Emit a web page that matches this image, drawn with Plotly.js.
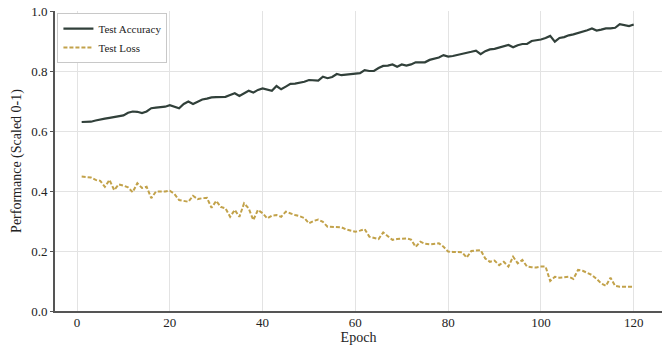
<!DOCTYPE html>
<html>
<head>
<meta charset="utf-8">
<script src="https://cdn.plot.ly/plotly-3.0.1.min.js"></script>
<style>html,body{margin:0;padding:0;background:#fff;}#chart{width:669px;height:347px;}</style>
</head>
<body>
<div id="chart"></div>
<script>
const epochs = Array.from({length: 120}, (_, i) => i + 1);

const testAccuracy = [
0.630,0.630,0.631,0.635,0.639,0.641,0.644,0.646,0.648,0.652,
0.661,0.665,0.664,0.660,0.665,0.676,0.678,0.679,0.681,0.686,
0.682,0.676,0.690,0.698,0.690,0.697,0.705,0.708,0.712,0.713,
0.713,0.714,0.720,0.726,0.717,0.726,0.734,0.728,0.737,0.742,
0.737,0.734,0.750,0.739,0.748,0.757,0.758,0.761,0.764,0.770,
0.768,0.768,0.781,0.776,0.780,0.790,0.786,0.788,0.790,0.793,
0.793,0.803,0.800,0.800,0.810,0.817,0.818,0.822,0.814,0.822,
0.818,0.822,0.829,0.829,0.829,0.837,0.840,0.845,0.853,0.848,
0.850,0.853,0.856,0.860,0.864,0.868,0.856,0.866,0.872,0.874,
0.879,0.884,0.887,0.879,0.886,0.890,0.890,0.900,0.902,0.905,
0.910,0.917,0.898,0.910,0.913,0.919,0.922,0.926,0.930,0.936,
0.942,0.935,0.938,0.942,0.942,0.944,0.956,0.953,0.950,0.955
];

const testLoss = [
0.448,0.447,0.445,0.437,0.434,0.414,0.437,0.403,0.422,0.418,
0.412,0.396,0.426,0.410,0.414,0.376,0.398,0.398,0.398,0.401,
0.390,0.370,0.367,0.364,0.384,0.373,0.376,0.377,0.344,0.367,
0.347,0.342,0.314,0.337,0.314,0.359,0.342,0.303,0.337,0.326,
0.309,0.318,0.320,0.314,0.331,0.325,0.320,0.316,0.310,0.292,
0.300,0.305,0.297,0.281,0.281,0.281,0.279,0.272,0.267,0.264,
0.268,0.273,0.248,0.244,0.240,0.262,0.248,0.237,0.240,0.242,
0.242,0.238,0.214,0.231,0.224,0.222,0.224,0.226,0.214,0.198,
0.197,0.196,0.196,0.178,0.200,0.202,0.203,0.175,0.164,0.168,
0.153,0.164,0.148,0.181,0.159,0.170,0.148,0.146,0.145,0.148,
0.148,0.100,0.114,0.111,0.112,0.114,0.107,0.137,0.134,0.127,
0.120,0.107,0.092,0.084,0.111,0.084,0.081,0.081,0.081,0.081
];

const xTicks = [0, 20, 40, 60, 80, 100, 120];
const yTicks = [0.0, 0.2, 0.4, 0.6, 0.8, 1.0];

const font = 'Liberation Serif, Times New Roman, serif';

const traces = [
  {x: epochs, y: testAccuracy, type: 'scatter', mode: 'lines', name: 'Test Accuracy',
   line: {color: '#31403a', width: 2.2}},
  {x: epochs, y: testLoss, type: 'scatter', mode: 'lines', name: 'Test Loss',
   line: {color: '#c2a24a', width: 2, dash: '4px,2px'}}
];

const layout = {
  width: 669, height: 347,
  margin: {l: 55, r: 7, t: 11, b: 36},
  paper_bgcolor: '#fff', plot_bgcolor: '#fff',
  font: {family: font, color: '#222', size: 13},
  showlegend: true,
  legend: {x: 0.004, y: 0.993, xanchor: 'left', yanchor: 'top',
    bgcolor: '#fff', bordercolor: '#c8c8c8', borderwidth: 1,
    font: {family: font, size: 11, color: '#222'}, tracegroupgap: 0, itemwidth: 30},
  xaxis: {
    range: [-4.75, 126.1], tickvals: xTicks, ticktext: xTicks.map(String),
    showgrid: true, gridcolor: '#e3e3e3', gridwidth: 1, zeroline: false,
    showline: true, linecolor: '#555', linewidth: 2,
    ticks: '', ticklabelstandoff: -2,
    tickfont: {family: font, size: 13, color: '#222'},
    title: {text: 'Epoch', font: {family: font, size: 14, color: '#222'}, standoff: 0}
  },
  yaxis: {
    range: [0, 1.0], tickvals: yTicks, ticktext: yTicks.map(v => v.toFixed(1)),
    showgrid: true, gridcolor: '#e3e3e3', gridwidth: 1, zeroline: false,
    showline: true, linecolor: '#555', linewidth: 2,
    ticks: 'outside', ticklen: 3, tickcolor: '#555',
    tickfont: {family: font, size: 13, color: '#222'},
    title: {text: 'Performance (Scaled 0-1)', font: {family: font, size: 14, color: '#222'}, standoff: 6}
  }
};

Plotly.newPlot('chart', traces, layout, {displayModeBar: false, staticPlot: true});
</script>
</body>
</html>
